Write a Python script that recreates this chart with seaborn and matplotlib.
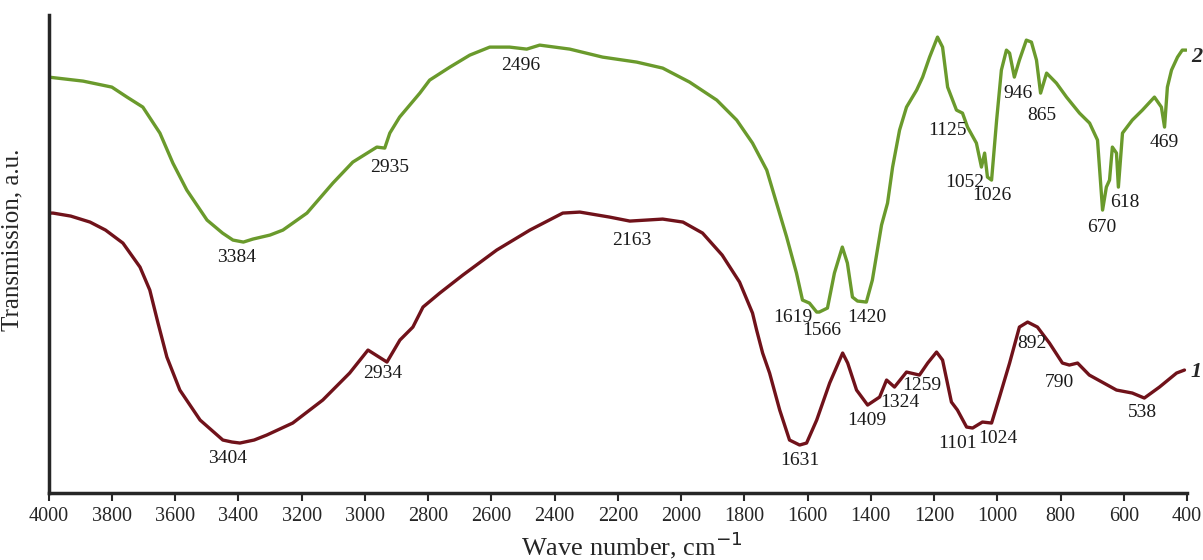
import matplotlib
matplotlib.use("Agg")
import matplotlib.pyplot as plt
import pandas as pd
import seaborn as sns

# sample 2 (upper, green) - wavenumber (cm-1) and transmission (a.u.)
wn_2 = [4000, 3891, 3800, 3752, 3702, 3648, 3607, 3563, 3499, 3450, 3417, 3384,
        3354, 3300, 3259, 3183, 3101, 3038, 2962, 2937, 2921, 2890, 2826, 2795,
        2731, 2668, 2605, 2542, 2488, 2447, 2352, 2248, 2140, 2058, 1973, 1887,
        1824, 1774, 1729, 1698, 1666, 1635, 1616, 1594, 1571, 1563, 1537, 1515,
        1490, 1474, 1458, 1442, 1414, 1395, 1366, 1347, 1331, 1309, 1287, 1255,
        1236, 1214, 1189, 1173, 1157, 1129, 1110, 1094, 1066, 1050, 1040, 1031,
        1018, 1002, 987, 971, 961, 946, 930, 908, 892, 876, 863, 844, 813, 781,
        740, 708, 683, 667, 655, 645, 636, 623, 617, 604, 573, 541, 503, 481,
        471, 462, 449, 430, 415, 402]
tr_2 = [416, 412, 406, 396, 386, 360, 330, 303, 273, 260, 253, 251,
        254, 258, 263, 280, 310, 331, 346, 345, 360, 376, 400, 413,
        426, 438, 446, 446, 444, 448, 444, 436, 431, 425, 411, 393,
        373, 350, 323, 290, 256, 220, 193, 190, 181, 181, 185, 220,
        246, 230, 196, 192, 191, 213, 268, 290, 326, 363, 386, 403,
        416, 436, 456, 446, 406, 383, 380, 366, 350, 326, 340, 316,
        313, 373, 423, 443, 440, 416, 433, 453, 451, 433, 400, 420, 410, 396,
        380, 370, 353, 283, 306, 313, 346, 340, 306, 360, 373, 383, 396, 386,
        366, 406, 423, 436, 443, 443]

# sample 1 (lower, dark red)
wn_1 = [4000, 3986, 3930, 3869, 3820, 3765, 3711, 3680, 3654, 3626, 3585, 3521,
        3449, 3420, 3395, 3350, 3310, 3228, 3133, 3048, 2990, 2930, 2889, 2848,
        2816, 2763, 2690, 2583, 2478, 2374, 2320, 2226, 2162, 2058, 1994, 1932,
        1870, 1815, 1774, 1761, 1742, 1720, 1688, 1657, 1625, 1603, 1571, 1530,
        1489, 1473, 1445, 1410, 1372, 1350, 1325, 1287, 1246, 1220, 1192, 1173,
        1145, 1126, 1097, 1078, 1047, 1018, 993, 961, 930, 904, 873, 835, 794,
        772, 746, 709, 623, 573, 535, 487, 433, 408]
tr_1 = [280, 280, 277, 271, 263, 250, 226, 203, 170, 136, 103, 73,
        53, 51, 50, 53, 58, 70, 93, 120, 143, 131, 153, 166,
        186, 200, 218, 243, 263, 280, 281, 276, 272, 274, 271, 260,
        238, 211, 180, 163, 140, 120, 83, 53, 48, 50, 73, 110,
        140, 130, 103, 88, 96, 113, 106, 121, 118, 130, 141, 133,
        91, 83, 66, 65, 71, 70, 96, 130, 166, 171, 166, 150, 130,
        128, 130, 118, 103, 100, 95, 106, 120, 123]

# peak labels: (text, wavenumber, transmission) of the label centre
labels_2 = [("3384", 3405, 236), ("2935", 2921, 326), ("2496", 2507, 428),
            ("1619", 1647, 176), ("1566", 1556, 163), ("1420", 1413, 176),
            ("1125", 1157, 363), ("1052", 1104, 311), ("1026", 1018, 298),
            ("946", 936, 400), ("865", 860, 378), ("670", 671, 266),
            ("618", 598, 291), ("469", 471, 351)]
labels_1 = [("3404", 3433, 35), ("2934", 2943, 120), ("2163", 2156, 253),
            ("1631", 1625, 33), ("1409", 1413, 73), ("1324", 1309, 91),
            ("1259", 1239, 108), ("1101", 1126, 50), ("1024", 999, 55),
            ("892", 889, 150), ("790", 803, 111), ("538", 541, 81)]

x_ticks = list(range(4000, 399, -200))

GREEN = "#6a9a2c"
RED = "#70121a"

sns.set_style("ticks")
plt.rcParams["font.family"] = ["Liberation Serif", "DejaVu Serif"]

df2 = pd.DataFrame({"wn": wn_2, "tr": tr_2})
df1 = pd.DataFrame({"wn": wn_1, "tr": tr_1})

fig = plt.figure(figsize=(12.03, 5.6), dpi=100)
ax = fig.add_axes([0.0404, 0.1196, 0.9463, 0.8534])

sns.lineplot(data=df2, x="wn", y="tr", ax=ax, color=GREEN, linewidth=2.4,
             solid_joinstyle="round", solid_capstyle="round")
sns.lineplot(data=df1, x="wn", y="tr", ax=ax, color=RED, linewidth=2.4,
             solid_joinstyle="round", solid_capstyle="round")

for txt, x, y in labels_2 + labels_1:
    ax.text(x, y, txt, ha="center", va="center", fontsize=14, color="#1a1a1a")

# curve numbers at the right edge (partly cut off, as in the source)
ax.text(388, 436, "2", fontsize=16, style="italic", fontweight="bold",
        va="center", ha="left", clip_on=False)
ax.text(388, 121, "1", fontsize=16, style="italic", fontweight="bold",
        va="center", ha="left", clip_on=False)

ax.set_xlim(4000, 400)
ax.set_ylim(0, 478)
ax.set_xticks(x_ticks)
ax.set_xticklabels([str(t) for t in x_ticks])
ax.set_yticks([])
ax.tick_params(axis="x", labelsize=14.5, length=6, width=1.5, direction="out",
               pad=4)

sns.despine(ax=ax)
ax.spines["left"].set_linewidth(2.5)
ax.spines["bottom"].set_linewidth(2.5)

ax.set_xlabel("Wave number, cm$^{-1}$", fontsize=19)
ax.xaxis.set_label_coords(0.512, -0.077)
ax.set_ylabel("Transmission, a.u.", fontsize=18)
ax.yaxis.set_label_coords(-0.022, 0.53)

fig.savefig("out.png", dpi=100)
